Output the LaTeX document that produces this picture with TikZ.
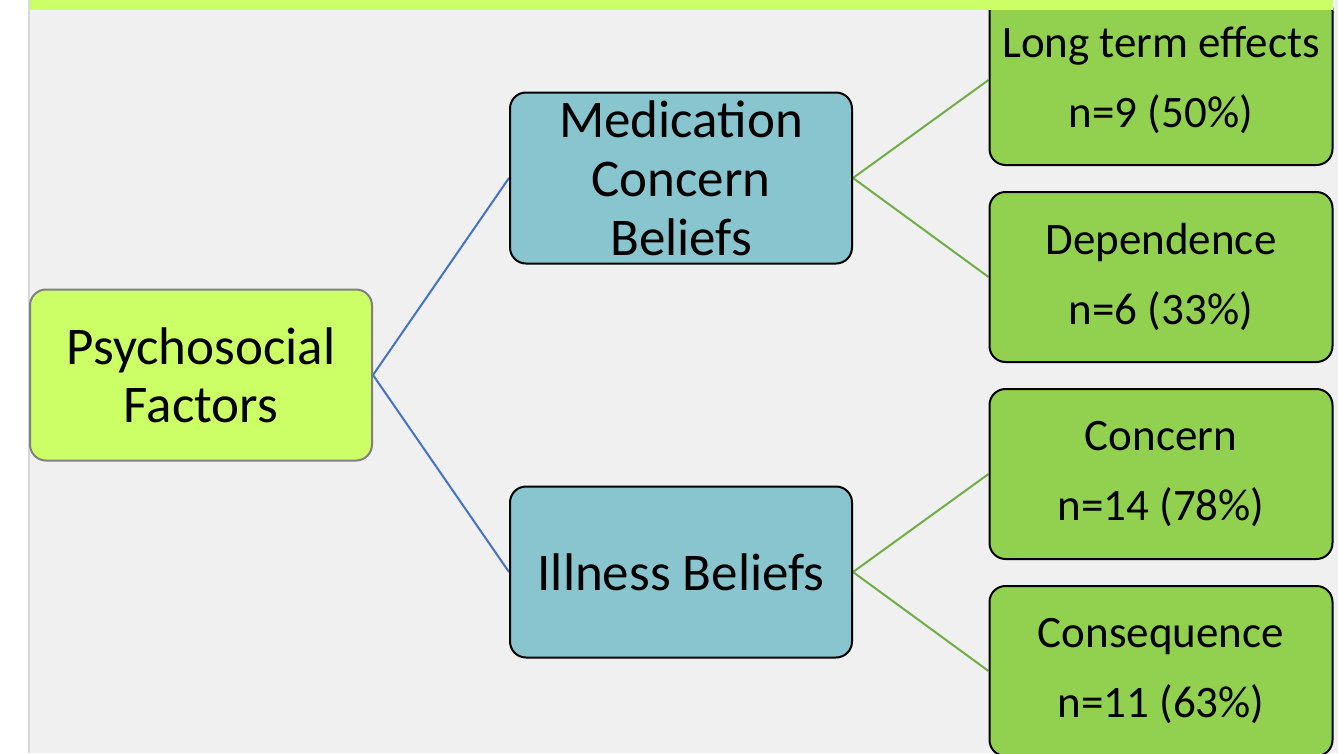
\documentclass[tikz,border=0pt]{standalone}
\usepackage{fontspec}
\setmainfont{Carlito}
\pgfdeclarelayer{background}
\pgfdeclarelayer{foreground}
\pgfsetlayers{background,main,foreground}
\definecolor{barGreen}{HTML}{CCFF66}
\definecolor{paneGray}{HTML}{F0F0F0}
\definecolor{midTeal}{HTML}{89C5CE}
\definecolor{leafGreen}{HTML}{92D050}
\definecolor{linkBlue}{HTML}{4472C4}
\definecolor{linkGreen}{HTML}{70AD47}
\tikzstyle{root box}=[draw=black!50, line width=2pt, fill=barGreen, rounded corners=16pt, minimum width=342pt, minimum height=171pt, inner sep=4pt, align=center, font=\fontsize{53}{58}\selectfont]
\tikzstyle{mid box}=[draw=black, line width=2pt, fill=midTeal, rounded corners=16pt, minimum width=342pt, minimum height=171pt, inner sep=4pt, align=center, font=\fontsize{53}{59}\selectfont]
\tikzstyle{leaf box}=[draw=black, line width=2pt, fill=leafGreen, rounded corners=16pt, minimum width=343pt, minimum height=170pt, inner sep=4pt, align=center, font=\fontsize{45}{70}\selectfont]
\tikzstyle{blue edge}=[draw, line width=2pt, linkBlue]
\tikzstyle{green edge}=[draw, line width=2pt, linkGreen]
\def\midNodes{{(681, 178)/med/{Medication\\Concern\\Beliefs}}, {(681, 572)/ill/{Illness Beliefs}}}
\def\leafNodes{{(1161, 80)/lte/{Long term effects\\n=9 (50\%)}}, {(1161, 277)/dep/{Dependence\\n=6 (33\%)}}, {(1161, 474)/con/{Concern\\n=14 (78\%)}}, {(1161, 671)/seq/{Consequence\\n=11 (63\%)}}}
\def\blueLinks{psy/med, psy/ill}
\def\greenLinks{med/lte, med/dep, ill/con, ill/seq}
\begin{document}
\begin{tikzpicture}[x=1pt,y=-1pt]

  \useasboundingbox (0,0) rectangle (1338,753);
  \clip (0,0) rectangle (1338,753);

  \node[root box] (psy) at (201, 375) {Psychosocial\\Factors};

  \foreach \pos/\name/\words in \midNodes {
    \node[mid box] (\name) at \pos {\words};
    }

  \foreach \pos/\name/\words in \leafNodes {
    \node[leaf box] (\name) at \pos {\words};
    }

  \begin{pgfonlayer}{background}
    \fill[paneGray] (30,0) rectangle (1338,753);
    \fill[black!15] (28,0) rectangle (30,753);

    \foreach \source/ \dest in \blueLinks
      \path[blue edge] (\source.east) -- (\dest.west);

    \foreach \source/ \dest in \greenLinks
      \path[green edge] (\source.east) -- (\dest.west);
  \end{pgfonlayer}

  \begin{pgfonlayer}{foreground}
    \fill[barGreen] (30,0) rectangle (1333,10);
  \end{pgfonlayer}

\end{tikzpicture}
\end{document}
